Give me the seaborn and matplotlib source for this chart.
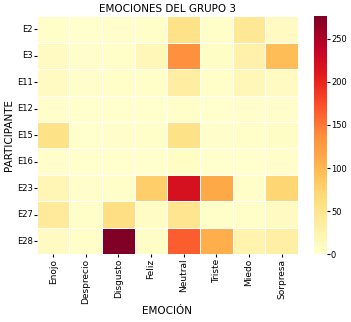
import numpy as np
import pandas as pd
import seaborn as sns
from matplotlib import pyplot as plt

participantes = ['E2', 'E3', 'E11', 'E12', 'E15', 'E16', 'E23', 'E27', 'E28']
emociones = ['Enojo', 'Desprecio', 'Disgusto', 'Feliz', 'Neutral', 'Triste', 'Miedo', 'Sorpresa']

# conteos por participante (filas) y emocion (columnas)
e2 = [5, 2, 3, 4, 55, 4, 45, 10]
e3 = [10, 3, 5, 18, 135, 6, 28, 95]
e11 = [10, 3, 4, 5, 35, 4, 18, 10]
e12 = [3, 1, 2, 2, 5, 2, 3, 3]
e15 = [55, 2, 3, 4, 55, 3, 4, 6]
e16 = [3, 1, 2, 2, 8, 2, 2, 3]
e23 = [20, 3, 5, 80, 218, 112, 4, 72]
e27 = [40, 4, 60, 8, 50, 5, 5, 10]
e28 = [10, 5, 276, 6, 165, 108, 25, 32]

df = pd.DataFrame([e2, e3, e11, e12, e15, e16, e23, e27, e28],
                  index=participantes, columns=emociones)

fig = plt.figure(figsize=(3.51, 3.22), dpi=100)
ax = fig.add_axes([0.105, 0.21, 0.744, 0.74])
cax = fig.add_axes([0.895, 0.21, 0.036, 0.74])

sns.heatmap(df, cmap='YlOrRd', linewidths=0.5, linecolor='white',
            ax=ax, cbar_ax=cax)

ax.set_title('EMOCIONES DEL GRUPO 3', fontsize=7.5, pad=3)
ax.set_xlabel('EMOCIÓN', fontsize=7.5, labelpad=2)
ax.set_ylabel('PARTICIPANTE', fontsize=7.5, labelpad=2)
ax.tick_params(axis='x', labelsize=6.5, rotation=90, length=2, pad=1)
ax.tick_params(axis='y', labelsize=6, rotation=0, length=2, pad=1)
cax.tick_params(labelsize=6, length=2, pad=1)
cax.set_yticks([0, 50, 100, 150, 200, 250])

plt.savefig('out.png', dpi=100)
